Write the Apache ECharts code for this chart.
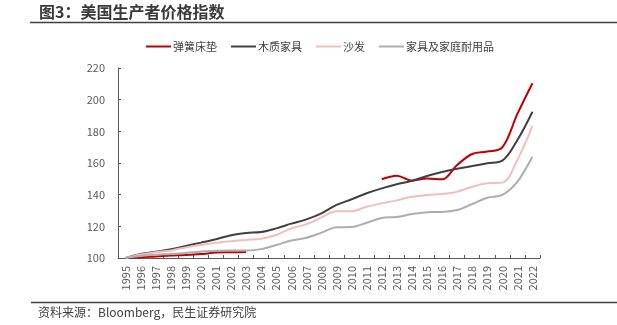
<!DOCTYPE html>
<html>
<head>
<meta charset="utf-8">
<script src="https://cdn.jsdelivr.net/npm/echarts@6/dist/echarts.min.js"></script>
<style>
  html, body { margin: 0; padding: 0; background: #fff; }
  #chart { width: 617px; height: 325px; }
</style>
</head>
<body>
<div id="chart"></div>
<script>
// 年份
const years = ['1995','1996','1997','1998','1999','2000','2001','2002','2003','2004',
  '2005','2006','2007','2008','2009','2010','2011','2012','2013','2014',
  '2015','2016','2017','2018','2019','2020','2021','2022'];

// 弹簧床垫（2004-2011 无数据）
const mattress = [100, 100.4, 101, 101.5, 101.9, 102.5, 103.4, 103.6, 103.8, null,
  null, null, null, null, null, null, null, 149.7, 152, 148.8,
  150.2, 149.7, 158.7, 165.7, 167.2, 169.9, 191, 210.4];

// 木质家具
const woodFurniture = [100, 102.5, 104, 105.5, 107.6, 109.7, 111.9, 114.4, 115.8, 116.4,
  118.7, 121.7, 124.4, 128.2, 133.5, 137.1, 140.9, 144, 146.6, 148.8,
  151.8, 154.3, 156.4, 158.1, 159.8, 161.5, 174.5, 192.4];

// 沙发
const sofa = [100, 102.3, 103.6, 104.8, 106.7, 108.2, 109.6, 110.6, 111.4, 112.2,
  114.5, 118.7, 121.3, 125.7, 129.5, 129.5, 132.4, 134.5, 136.4, 138.7,
  139.8, 140.4, 141.9, 145, 147.2, 147.6, 161.9, 183.4];

// 家具及家庭耐用品
const householdDurables = [100, 101.3, 102.1, 102.5, 103.2, 104, 104.6, 104.8, 104.8, 105.6,
  108.2, 111.1, 112.8, 116, 119.4, 119.6, 122.3, 125.3, 125.9, 127.8,
  128.9, 129.1, 130.3, 134.1, 138.1, 139.8, 148.2, 164];

// 纵轴刻度
const yMin = 100, yMax = 220, yStep = 20;

const seriesDefs = [
  { name: '弹簧床垫', data: mattress, color: '#C00000' },
  { name: '木质家具', data: woodFurniture, color: '#404040' },
  { name: '沙发', data: sofa, color: '#F2BDBD' },
  { name: '家具及家庭耐用品', data: householdDurables, color: '#ADADAD' }
];

const fontFamily = '"Noto Sans CJK SC", "Microsoft YaHei", sans-serif';
const chart = echarts.init(document.getElementById('chart'), null, { renderer: 'canvas' });

chart.setOption({
  animation: false,
  backgroundColor: '#ffffff',
  textStyle: { fontFamily: fontFamily },
  graphic: [
    {
      type: 'text', left: 39, top: 4,
      style: { text: '图3：美国生产者价格指数', fill: '#3a3a3a',
        font: 'bold 16px ' + fontFamily }
    },
    {
      type: 'line', shape: { x1: 30, y1: 22.5, x2: 617, y2: 22.5 },
      style: { stroke: '#404040', lineWidth: 1.5 }
    },
    {
      type: 'line', shape: { x1: 31, y1: 302.5, x2: 617, y2: 302.5 },
      style: { stroke: '#404040', lineWidth: 1.5 }
    },
    {
      type: 'text', left: 38, top: 306,
      style: { text: '资料来源：Bloomberg，民生证券研究院', fill: '#404040',
        font: '12px ' + fontFamily }
    }
  ],
  legend: {
    left: 141, top: 36,
    itemWidth: 25, itemHeight: 2, itemGap: 14,
    icon: 'rect',
    textStyle: { fontSize: 11, color: '#404040', fontFamily: fontFamily, padding: [0, 0, 0, -3] },
    data: seriesDefs.map(s => s.name)
  },
  grid: { left: 118, right: 77, top: 68, bottom: 67, containLabel: false },
  xAxis: {
    type: 'category',
    data: years,
    boundaryGap: true,
    axisLine: { lineStyle: { color: '#595959', width: 1 } },
    axisTick: { show: true, inside: true, length: 3, alignWithLabel: false,
      lineStyle: { color: '#595959' } },
    axisLabel: { rotate: 90, interval: 0, fontSize: 11, color: '#595959', margin: 8 },
    splitLine: { show: false }
  },
  yAxis: {
    type: 'value',
    min: yMin, max: yMax, interval: yStep,
    axisLine: { show: true, lineStyle: { color: '#595959', width: 1 } },
    axisTick: { show: true, inside: true, length: 3, lineStyle: { color: '#595959' } },
    axisLabel: { fontSize: 11, color: '#595959', margin: 13 },
    splitLine: { show: false }
  },
  series: seriesDefs.map(s => ({
    name: s.name,
    type: 'line',
    data: s.data,
    smooth: 0.35,
    connectNulls: false,
    showSymbol: false,
    symbol: 'none',
    lineStyle: { color: s.color, width: 2 },
    itemStyle: { color: s.color }
  }))
});
</script>
</body>
</html>
